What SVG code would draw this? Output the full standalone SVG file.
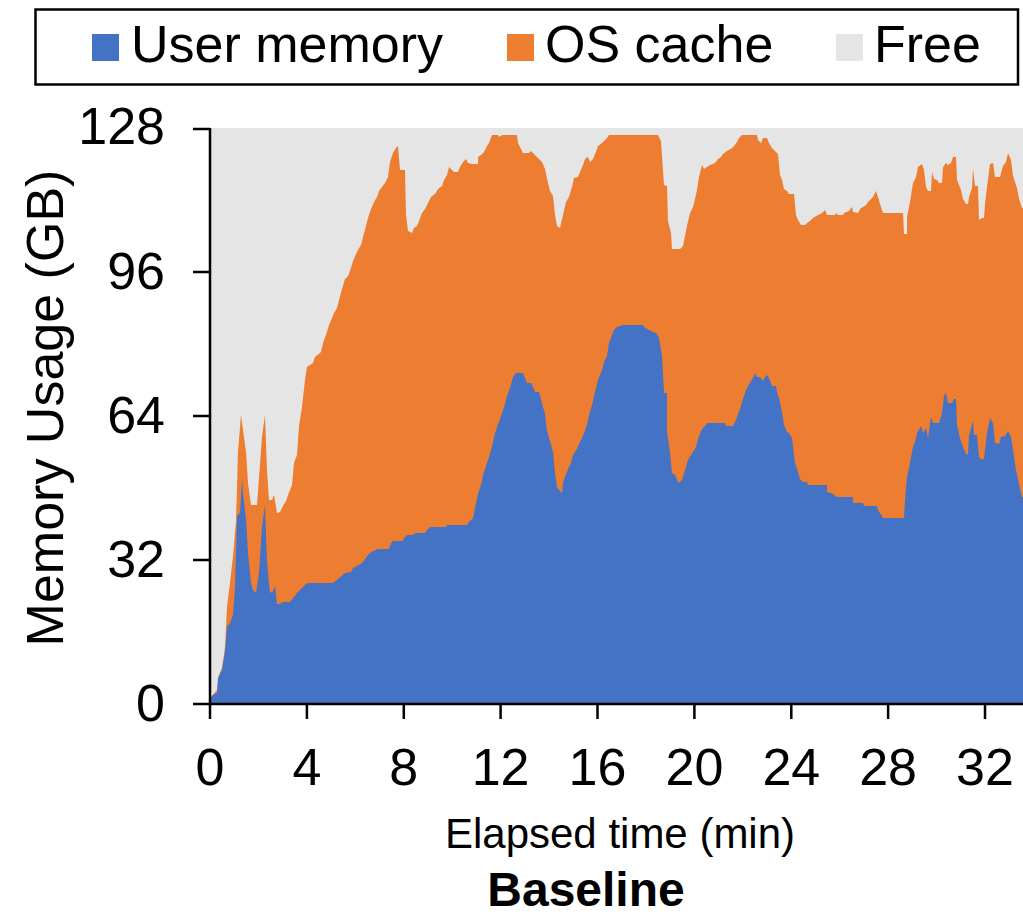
<svg xmlns="http://www.w3.org/2000/svg" width="1023" height="919" viewBox="0 0 1023 919">
  <style>
    text { font-family: "Liberation Sans", Arial, sans-serif; fill: #000; }
    .leg { font-size: 52px; }
    .tick { font-size: 52px; }
    .axis { stroke: #000; stroke-width: 2.5; fill: none; }
    .user { fill: #4472c4; }
    .cache { fill: #ed7d31; }
    .free { fill: #e5e5e5; }
  </style>

  <rect width="1023" height="919" fill="#fff"/>

  <!-- legend -->
  <g id="legend">
    <rect x="35.5" y="9.5" width="982.5" height="75" fill="#fff" stroke="#000" stroke-width="2.5"/>
    <rect class="user" x="92" y="34" width="27" height="27"/>
    <text class="leg" x="131" y="62">User memory</text>
    <rect class="cache" x="507" y="34" width="27" height="27"/>
    <text class="leg" x="545" y="62">OS cache</text>
    <rect class="free" x="836" y="34" width="27" height="27"/>
    <text class="leg" x="874" y="62">Free</text>
  </g>

  <!-- stacked areas: free (background), OS cache, user memory -->
  <g id="plot">
    <rect class="free" x="210" y="128" width="813" height="576"/>
    <path class="cache" d="M210 704 L210 698 L217 690 L219 675 L222 668 L225 647 L227 607 L230 583 L233 556 L236 522 L238 452 L241 415 L243 430 L246 452 L248 483 L251 505 L257 505 L259 478 L262 437 L265 415 L267 470 L269 500 L272 500 L274 495 L277 513 L280 512 L283 506 L286 501 L288 495 L292 485 L294 463 L297 455 L299 426 L302 407 L305 380 L307 367 L313 363 L315 357 L321 352 L323 343 L326 335 L329 325 L332 318 L334 313 L337 308 L339 300 L342 289 L345 279 L348 276 L350 271 L353 261 L356 254 L358 250 L361 245 L363 237 L366 226 L368 218 L371 209 L374 202 L377 197 L379 191 L382 187 L385 183 L388 177 L390 162 L393 153 L396 148 L398 146 L400 170 L405 170 L406 215 L408 231 L412 233 L414 228 L417 226 L419 221 L422 213 L425 209 L428 203 L431 197 L435 194 L438 189 L442 186 L444 180 L447 175 L449 167 L452 170 L454 172 L458 172 L460 167 L463 162 L466 159 L468 163 L472 164 L478 164 L478 157 L481 155 L484 152 L487 146 L489 143 L492 135 L498 135 L499 137 L502 135 L517 135 L518 143 L521 149 L523 153 L529 153 L531 151 L533 153 L539 159 L542 162 L545 169 L548 183 L550 191 L553 196 L555 215 L557 226 L560 228 L563 215 L566 202 L569 197 L572 187 L574 178 L578 177 L580 172 L583 165 L585 159 L588 157 L590 162 L593 159 L596 152 L598 146 L602 143 L604 141 L607 138 L609 135 L658 135 L661 141 L662 156 L664 185 L667 186 L668 221 L671 233 L672 249 L680 249 L683 246 L685 236 L687 226 L690 213 L693 207 L695 199 L697 190 L699 177 L702 165 L704 169 L707 167 L710 165 L713 164 L716 162 L718 159 L721 157 L723 154 L727 151 L732 148 L734 146 L737 142 L739 138 L742 135 L757 135 L758 140 L761 143 L763 138 L767 138 L769 143 L772 148 L775 151 L778 154 L780 175 L782 180 L784 189 L787 191 L789 194 L794 194 L796 215 L798 220 L801 225 L805 225 L807 223 L810 221 L813 218 L816 216 L822 213 L825 210 L827 215 L835 215 L836 213 L838 215 L843 215 L844 213 L849 211 L852 207 L853 212 L858 213 L860 209 L863 207 L866 205 L868 202 L871 199 L873 197 L876 191 L878 197 L881 207 L883 213 L903 213 L904 234 L907 234 L907 217 L910 202 L913 183 L916 177 L918 167 L922 164 L924 170 L926 187 L928 191 L931 191 L932 172 L934 179 L937 180 L939 183 L942 183 L943 167 L946 163 L948 165 L951 163 L953 157 L956 157 L957 180 L961 190 L963 199 L966 204 L968 204 L969 197 L972 188 L973 169 L975 186 L978 186 L979 220 L982 218 L984 218 L985 204 L987 187 L990 164 L993 163 L995 177 L1000 177 L1003 166 L1006 162 L1008 153 L1011 160 L1013 176 L1017 188 L1019 199 L1022 208 L1023 208 L1023 704 Z"/>
    <path class="user" d="M210 704 L210 698 L213 695 L217 693 L218 678 L222 670 L225 652 L227 627 L230 623 L233 615 L235 586 L237 516 L240 513 L242 479 L243 493 L246 519 L248 553 L251 583 L253 590 L256 593 L259 573 L262 527 L265 505 L267 562 L270 593 L273 591 L275 586 L277 604 L280 604 L283 602 L290 602 L293 598 L295 596 L297 593 L300 590 L303 587 L305 585 L308 583 L333 583 L337 580 L339 578 L345 573 L351 572 L353 568 L357 566 L362 563 L365 559 L369 554 L373 551 L378 549 L389 549 L391 543 L393 541 L403 541 L404 538 L407 535 L413 535 L415 533 L425 533 L427 530 L430 527 L446 527 L447 525 L467 525 L469 522 L473 518 L475 508 L478 494 L481 485 L483 475 L486 466 L489 457 L492 447 L494 437 L497 427 L499 422 L502 413 L505 404 L507 396 L510 388 L513 377 L516 373 L523 373 L525 378 L527 383 L531 383 L533 387 L535 392 L539 392 L541 399 L543 407 L545 414 L547 431 L550 441 L553 452 L555 473 L557 487 L559 490 L562 493 L563 483 L566 474 L568 469 L571 463 L573 455 L577 449 L579 444 L582 438 L584 433 L587 425 L589 415 L592 405 L595 392 L598 380 L602 370 L604 362 L607 356 L609 343 L612 335 L614 330 L617 327 L623 325 L643 325 L644 327 L647 329 L653 332 L656 333 L659 338 L662 356 L664 393 L667 393 L667 432 L670 452 L672 473 L675 475 L677 480 L679 483 L682 480 L683 477 L686 467 L688 460 L691 455 L693 452 L696 447 L698 439 L701 431 L703 428 L706 425 L707 423 L725 423 L726 426 L733 426 L735 422 L737 417 L740 409 L742 402 L745 393 L747 388 L750 383 L753 378 L755 373 L757 377 L760 377 L763 381 L765 377 L767 375 L769 378 L772 386 L776 386 L777 392 L779 398 L782 412 L784 425 L787 432 L789 433 L792 438 L795 463 L798 472 L800 479 L803 482 L807 482 L808 485 L827 485 L827 492 L831 493 L837 497 L853 497 L853 503 L863 503 L864 506 L877 506 L878 510 L880 513 L883 518 L904 518 L905 500 L907 477 L910 463 L913 447 L915 442 L917 433 L921 426 L923 433 L926 428 L928 438 L931 417 L933 423 L939 423 L942 413 L944 396 L946 393 L948 403 L952 403 L954 399 L956 399 L957 425 L960 438 L963 447 L966 454 L968 454 L969 436 L973 421 L974 435 L977 435 L979 457 L982 460 L984 458 L985 450 L987 433 L990 418 L993 423 L995 443 L999 444 L1001 437 L1005 436 L1008 431 L1011 437 L1013 450 L1016 470 L1019 484 L1022 497 L1023 497 L1023 704 Z"/>
  </g>

  <!-- axes and ticks -->
  <g id="axes">
    <path class="axis" d="M210 128 V704 H1023"/>
    <path class="axis" d="M193 129 H210 M193 272 H210 M193 416 H210 M193 560 H210 M193 704 H210"/>
    <path class="axis" d="M210 704 V719 M306.9 704 V719 M403.8 704 V719 M500.6 704 V719 M597.5 704 V719 M694.4 704 V719 M791.3 704 V719 M888.1 704 V719 M985 704 V719"/>
  </g>

  <g id="y-labels" text-anchor="end">
    <text class="tick" x="165" y="144">128</text>
    <text class="tick" x="165" y="289">96</text>
    <text class="tick" x="165" y="433">64</text>
    <text class="tick" x="165" y="577">32</text>
    <text class="tick" x="165" y="721">0</text>
  </g>

  <g id="x-labels" text-anchor="middle">
    <text class="tick" x="210" y="785">0</text>
    <text class="tick" x="306.9" y="785">4</text>
    <text class="tick" x="403.8" y="785">8</text>
    <text class="tick" x="500.6" y="785">12</text>
    <text class="tick" x="597.5" y="785">16</text>
    <text class="tick" x="694.4" y="785">20</text>
    <text class="tick" x="791.3" y="785">24</text>
    <text class="tick" x="888.1" y="785">28</text>
    <text class="tick" x="985" y="785">32</text>
  </g>

  <g id="titles" text-anchor="middle">
    <text x="620" y="848" font-size="42">Elapsed time (min)</text>
    <text x="586" y="906" font-size="48" font-weight="bold">Baseline</text>
    <text transform="translate(63 408) rotate(-90)" font-size="52">Memory Usage (GB)</text>
  </g>
</svg>
